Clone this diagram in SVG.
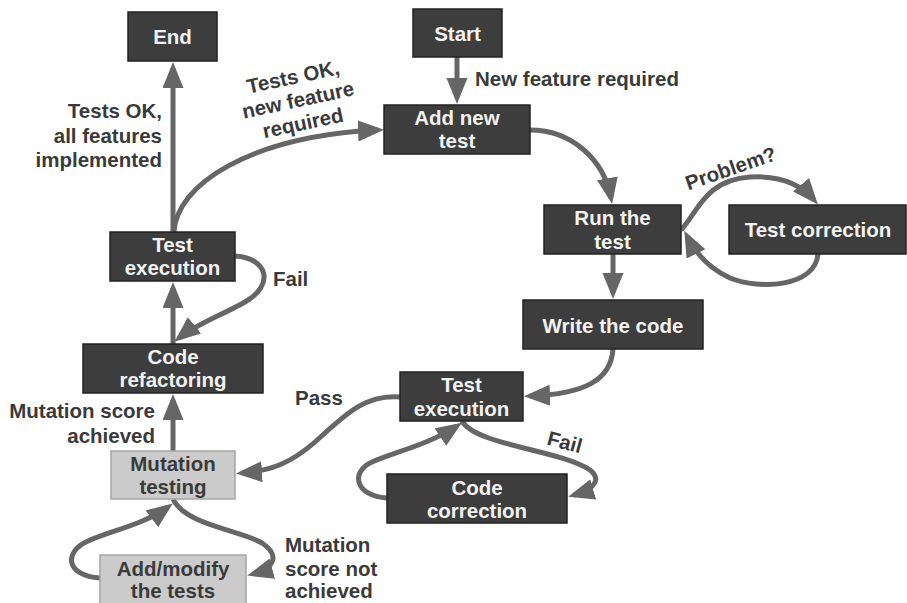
<svg xmlns="http://www.w3.org/2000/svg" width="907" height="603" viewBox="0 0 907 603">
<defs>
<style>
.box{fill:#3d3d3d;stroke:#222;stroke-width:1.5}
.lbox{fill:#cbcbcb;stroke:#a5a5a5;stroke-width:1.5}
.nt{font-family:"Liberation Sans",Arial,sans-serif;font-weight:bold;font-size:20.5px;fill:#f2f2f2;text-anchor:middle}
.nd{font-family:"Liberation Sans",Arial,sans-serif;font-weight:bold;font-size:20.5px;fill:#3a3a3a;text-anchor:middle}
.lb{font-family:"Liberation Sans",Arial,sans-serif;font-weight:bold;font-size:20.5px;fill:#3a3a3a}
.c{fill:none;stroke:#666;stroke-width:5;marker-end:url(#ah)}
</style>
<marker id="ah" markerUnits="userSpaceOnUse" markerWidth="26" markerHeight="22" refX="20" refY="10.5" orient="auto">
<path d="M0,0 L26,10.5 L0,21 z" fill="#666"/>
</marker>
</defs>
<rect width="907" height="603" fill="#fff"/>

<g id="connectors">
<path class="c" d="M457,57 L457,98"/>
<path class="c" d="M530,130 C572,130 604,160 611,198"/>
<path class="c" d="M613,254 L613,293"/>
<path class="c" d="M681,230 C698,212 705,180 750,177 C785,175 803,187 814,200"/>
<path class="c" d="M818,254 C815,287 760,290 730,278 C708,268 695,252 687,236"/>
<path class="c" d="M613,349 C611,380 585,394 530,396"/>
<path class="c" d="M462,421 C475,445 560,450 590,470 C600,478 598,488 574,495"/>
<path class="c" d="M387,498 C355,496 350,472 372,462 C395,452 430,444 457,426"/>
<path class="c" d="M400,397 C365,394 345,415 315,442 C292,462 272,471 242,473"/>
<path class="c" d="M173,451 L173,400"/>
<path class="c" d="M173,499 C185,525 240,530 262,543 C280,555 275,568 253,574"/>
<path class="c" d="M100,578 C66,576 63,552 88,541 C110,531 145,524 168,507"/>
<path class="c" d="M173,344 L173,288"/>
<path class="c" d="M235,256 C268,258 275,285 245,302 C220,316 195,325 179,338"/>
<path class="c" d="M173,232 L173,68"/>
<path class="c" d="M174,232 C176,185 250,136 378,130"/>
</g>

<g id="labels">
<text class="lb" x="475" y="86">New feature required</text>
<text class="lb" text-anchor="end" x="162" y="118">Tests OK,</text>
<text class="lb" text-anchor="end" x="162" y="143">all features</text>
<text class="lb" text-anchor="end" x="162" y="167">implemented</text>
<g transform="translate(298,100) rotate(-12)">
<text class="lb" text-anchor="middle" x="0" y="-16.5">Tests OK,</text>
<text class="lb" text-anchor="middle" x="0" y="7">new feature</text>
<text class="lb" text-anchor="middle" x="0" y="30.5">required</text>
</g>
<text class="lb" text-anchor="middle" transform="translate(733,175) rotate(-19)">Problem?</text>
<text class="lb" x="273" y="286">Fail</text>
<text class="lb" text-anchor="middle" transform="translate(563,449) rotate(15)">Fail</text>
<text class="lb" x="295" y="405">Pass</text>
<text class="lb" text-anchor="end" x="155" y="418">Mutation score</text>
<text class="lb" text-anchor="end" x="155" y="443">achieved</text>
<text class="lb" x="285" y="552">Mutation</text>
<text class="lb" x="285" y="576">score not</text>
<text class="lb" x="285" y="598">achieved</text>
</g>

<g id="end"><rect class="box" x="128" y="12" width="89" height="49"/><text class="nt" x="172.5" y="44">End</text></g>
<g id="start"><rect class="box" x="413" y="9" width="89" height="48"/><text class="nt" x="457.5" y="41">Start</text></g>
<g id="add-new-test"><rect class="box" x="384" y="105" width="146" height="49"/><text class="nt" x="457" y="125">Add new</text><text class="nt" x="457" y="148">test</text></g>
<g id="run-the-test"><rect class="box" x="544" y="205" width="137" height="49"/><text class="nt" x="612.5" y="225">Run the</text><text class="nt" x="612.5" y="249">test</text></g>
<g id="test-correction"><rect class="box" x="729" y="205" width="177" height="49"/><text class="nt" x="818" y="237">Test correction</text></g>
<g id="write-the-code"><rect class="box" x="523" y="300" width="180" height="49"/><text class="nt" x="613" y="333">Write the code</text></g>
<g id="test-execution-2"><rect class="box" x="400" y="372" width="123" height="49"/><text class="nt" x="461.5" y="392">Test</text><text class="nt" x="461.5" y="416">execution</text></g>
<g id="code-correction"><rect class="box" x="387" y="474" width="180" height="49"/><text class="nt" x="477" y="495">Code</text><text class="nt" x="477" y="518">correction</text></g>
<g id="test-execution-1"><rect class="box" x="110" y="232" width="125" height="49"/><text class="nt" x="172.5" y="252">Test</text><text class="nt" x="172.5" y="275">execution</text></g>
<g id="code-refactoring"><rect class="box" x="83" y="344" width="180" height="49"/><text class="nt" x="173" y="364">Code</text><text class="nt" x="173" y="387">refactoring</text></g>
<g id="mutation-testing"><rect class="lbox" x="111" y="451" width="124" height="48"/><text class="nd" x="173" y="471">Mutation</text><text class="nd" x="173" y="494">testing</text></g>
<g id="add-modify-tests"><rect class="lbox" x="100" y="555" width="146" height="60"/><text class="nd" x="173" y="576">Add/modify</text><text class="nd" x="173" y="598">the tests</text></g>
</svg>
